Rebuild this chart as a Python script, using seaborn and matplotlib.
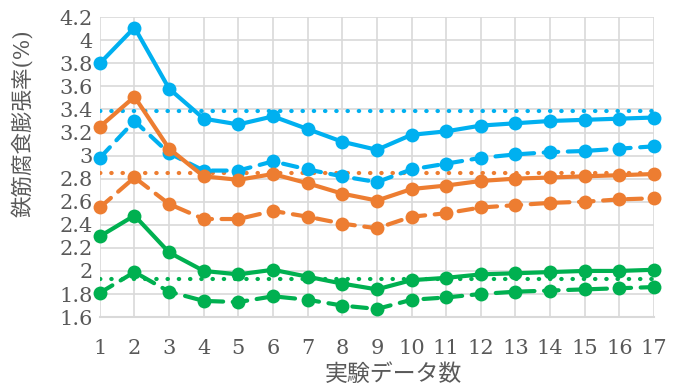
import matplotlib
matplotlib.use("Agg")
import matplotlib.pyplot as plt
import seaborn as sns
import pandas as pd

# data
n_data = list(range(1, 18))
blue_solid = [3.80, 4.11, 3.58, 3.32, 3.27, 3.34, 3.23, 3.12, 3.05, 3.18, 3.21, 3.26, 3.28, 3.30, 3.31, 3.32, 3.33]
blue_dash = [2.98, 3.30, 3.02, 2.87, 2.87, 2.95, 2.88, 2.82, 2.77, 2.88, 2.93, 2.98, 3.01, 3.03, 3.04, 3.06, 3.08]
orange_solid = [3.25, 3.51, 3.06, 2.82, 2.79, 2.84, 2.76, 2.67, 2.61, 2.71, 2.74, 2.78, 2.80, 2.81, 2.82, 2.83, 2.84]
orange_dash = [2.55, 2.81, 2.58, 2.45, 2.45, 2.52, 2.47, 2.41, 2.37, 2.47, 2.50, 2.55, 2.57, 2.59, 2.60, 2.62, 2.63]
green_solid = [2.30, 2.48, 2.16, 2.00, 1.97, 2.01, 1.95, 1.89, 1.84, 1.92, 1.94, 1.97, 1.98, 1.99, 2.00, 2.00, 2.01]
green_dash = [1.81, 1.99, 1.82, 1.74, 1.73, 1.78, 1.75, 1.70, 1.67, 1.75, 1.77, 1.80, 1.82, 1.83, 1.84, 1.85, 1.86]
ref_levels = [3.39, 2.85, 1.93]
yticks = [1.6, 1.8, 2, 2.2, 2.4, 2.6, 2.8, 3, 3.2, 3.4, 3.6, 3.8, 4, 4.2]
ytick_labels = ["1.6", "1.8", "2", "2.2", "2.4", "2.6", "2.8", "3", "3.2", "3.4", "3.6", "3.8", "4", "4.2"]

BLUE = "#00B0F0"
ORANGE = "#ED7D31"
GREEN = "#00B050"

sns.set_style("white")
plt.rcParams['font.family'] = ['DejaVu Serif', 'Noto Sans CJK JP']

df = pd.DataFrame({"x": n_data, "bs": blue_solid, "bd": blue_dash,
                   "os": orange_solid, "od": orange_dash,
                   "gs": green_solid, "gd": green_dash})

fig = plt.figure(figsize=(6.84, 3.90), dpi=100)
ax = fig.add_axes([0.146, 0.187, 0.81, 0.769])

for lvl, c in zip(ref_levels, [BLUE, ORANGE, GREEN]):
    ax.axhline(lvl, color=c, lw=3, ls=(0, (0.1, 2.6)), dash_capstyle="round", zorder=2)

series = [("bs", BLUE, "-"), ("bd", BLUE, (0, (3.5, 2.3))),
          ("os", ORANGE, "-"), ("od", ORANGE, (0, (3.5, 2.3))),
          ("gs", GREEN, "-"), ("gd", GREEN, (0, (3.5, 2.3)))]
for col, c, ls in series:
    sns.lineplot(data=df, x="x", y=col, ax=ax, color=c, lw=3, marker="o",
                 markersize=10, markeredgewidth=0, clip_on=False, zorder=3)
    ax.lines[-1].set_linestyle(ls)
    ax.lines[-1].set_dash_capstyle("round")

ax.set_xlim(1, 17)
ax.set_ylim(1.6, 4.2)
ax.set_xticks(n_data)
ax.set_xticklabels([str(v) for v in n_data])
ax.set_yticks(yticks)
ax.set_yticklabels(ytick_labels)
ax.grid(True, color="#d9d9d9", lw=1.2)
for s in ["top", "right", "left"]:
    ax.spines[s].set_visible(False)
ax.spines["bottom"].set_color("#d9d9d9")
ax.spines["bottom"].set_linewidth(1.5)
ax.tick_params(axis="both", length=0, labelsize=15, colors="#595959")
ax.tick_params(axis="x", pad=16)
ax.tick_params(axis="y", pad=5)
ax.set_xlabel("実験データ数", fontsize=16.5, color="#595959")
ax.set_ylabel("鉄筋腐食膨張率(%)", fontsize=15.5, color="#595959")
ax.xaxis.set_label_coords(0.529, -0.155)
ax.yaxis.set_label_coords(-0.118, 0.647)

fig.savefig("out.png", dpi=100)
